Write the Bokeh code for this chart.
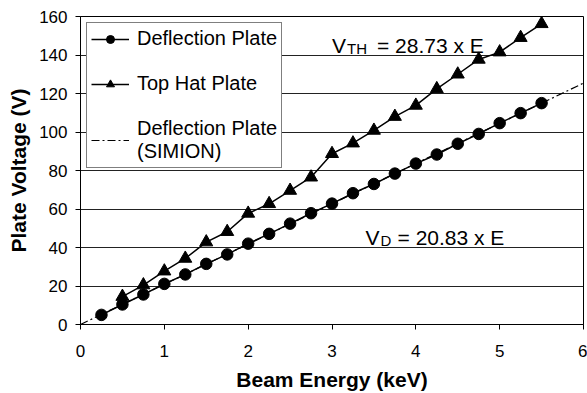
from bokeh.plotting import figure
from bokeh.models import Range1d, FixedTicker, Legend, LegendItem, Label
from bokeh.embed import file_html
from bokeh.resources import INLINE

# ---- data ----
energy_d = [0.25, 0.5, 0.75, 1.0, 1.25, 1.5, 1.75, 2.0, 2.25, 2.5, 2.75,
            3.0, 3.25, 3.5, 3.75, 4.0, 4.25, 4.5, 4.75, 5.0, 5.25, 5.5]
v_deflection = [5.0, 10.4, 15.6, 21.1, 26.0, 31.5, 36.4, 42.0, 47.1, 52.4, 57.8,
                62.8, 68.2, 73.0, 78.4, 83.6, 88.3, 93.9, 99.0, 104.6, 109.8, 115.0]
energy_th = [0.5, 0.75, 1.0, 1.25, 1.5, 1.75, 2.0, 2.25, 2.5, 2.75,
             3.0, 3.25, 3.5, 3.75, 4.0, 4.25, 4.5, 4.75, 5.0, 5.25, 5.5]
v_tophat = [14.5, 20.5, 27.7, 34.3, 42.8, 48.2, 57.7, 62.7, 69.6, 76.5,
            88.7, 94.2, 100.8, 108.0, 113.8, 122.4, 130.0, 137.7, 141.5, 149.0, 156.2]
simion_e = [0.0, 6.0]
simion_v = [0.0, 125.4]
x_ticks = [0, 1, 2, 3, 4, 5, 6]
y_ticks = [0, 20, 40, 60, 80, 100, 120, 140, 160]

FONT = "Liberation Sans"

p = figure(width=587, height=393, output_backend="svg", toolbar_location=None,
           x_range=Range1d(0, 6), y_range=Range1d(0, 160),
           min_border_left=80, min_border_right=4, min_border_top=16, min_border_bottom=69)
p.background_fill_color = "white"
p.border_fill_color = "white"
p.outline_line_color = "black"
p.outline_line_width = 1

p.xgrid.grid_line_color = None
p.ygrid.grid_line_color = "#222222"
p.ygrid.grid_line_width = 1.2
p.ygrid.ticker = FixedTicker(ticks=y_ticks)

p.xaxis.ticker = FixedTicker(ticks=x_ticks)
p.yaxis.ticker = FixedTicker(ticks=y_ticks)
for ax in (p.xaxis[0], p.yaxis[0]):
    ax.axis_line_color = "black"
    ax.major_tick_line_color = "black"
    ax.major_tick_out = 5
    ax.major_tick_in = 0
    ax.minor_tick_line_color = None
    ax.major_label_text_font = FONT
    ax.major_label_text_font_size = "17px"
    ax.major_label_text_color = "black"
    ax.axis_label_text_font = FONT
    ax.axis_label_text_font_size = "21px"
    ax.axis_label_text_font_style = "bold"
    ax.axis_label_text_color = "black"

p.xaxis.axis_label = "Beam Energy (keV)"
p.yaxis.axis_label = "Plate Voltage (V)"
p.xaxis.major_label_standoff = 15
p.xaxis.axis_label_standoff = 8
p.yaxis.major_label_standoff = 8
p.yaxis.axis_label_standoff = 6

# ---- series ----
l_sim = p.line(simion_e, simion_v, line_color="black", line_width=1.2, line_dash="8 3 2 3")
l_d = p.line(energy_d, v_deflection, line_color="black", line_width=1.5)
s_d = p.scatter(energy_d, v_deflection, marker="circle", size=11.5,
                fill_color="black", line_color="black")
l_th = p.line(energy_th, v_tophat, line_color="black", line_width=1.5)
s_th = p.scatter(energy_th, v_tophat, marker="triangle", size=13,
                 fill_color="black", line_color="black")

legend = Legend(items=[
    LegendItem(label="Deflection Plate", renderers=[l_d, s_d]),
    LegendItem(label="Top Hat Plate", renderers=[l_th, s_th]),
    LegendItem(label="Deflection Plate\n(SIMION)", renderers=[l_sim]),
], location="top_left")
legend.margin = 6
legend.padding = 4
legend.spacing = 22
legend.glyph_width = 38
legend.glyph_height = 20
legend.label_height = 20
legend.label_standoff = 8
legend.label_text_font = FONT
legend.label_text_font_size = "20px"
legend.label_text_color = "black"
legend.border_line_color = "black"
legend.border_line_width = 1.2
legend.background_fill_color = "white"
legend.background_fill_alpha = 1.0
p.add_layout(legend)

# ---- equations ----
def eq(x, y, sub, rest, sub_off, rest_off):
    p.add_layout(Label(x=x, y=y, text="V", text_font=FONT, text_font_size="21px",
                       text_color="black", text_baseline="alphabetic"))
    p.add_layout(Label(x=x, y=y, x_offset=sub_off, y_offset=-3, text=sub, text_font=FONT,
                       text_font_size="15px", text_color="black", text_baseline="alphabetic"))
    p.add_layout(Label(x=x, y=y, x_offset=rest_off, text=rest, text_font=FONT,
                       text_font_size="21px", text_color="black", text_baseline="alphabetic"))

eq(3.0, 145, "TH", "= 28.73 x E", 15, 45)
eq(3.4, 45, "D", "= 20.83 x E", 15, 32)

open("out.html", "w").write(file_html(p, INLINE))
